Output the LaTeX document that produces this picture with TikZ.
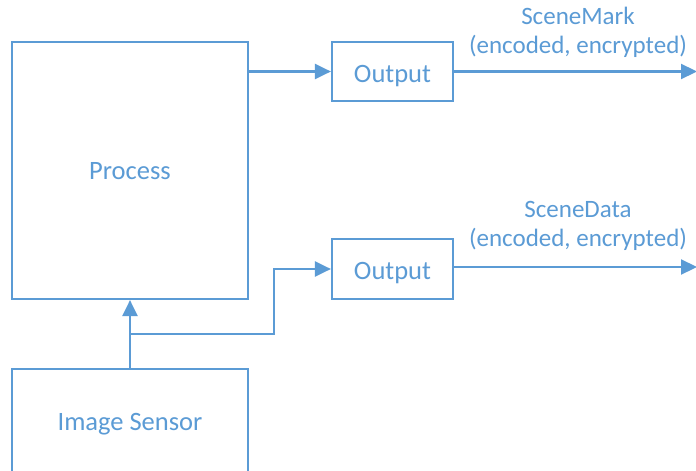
\documentclass[tikz,border=0pt]{standalone}
\usepackage{fontspec}
\setmainfont{Carlito}
\usetikzlibrary{arrows.meta}
\definecolor{accent}{HTML}{5B9BD5}
\tikzset{
  box/.style={draw=accent, line width=2.2pt, inner sep=0pt, text=accent,
    text depth=0pt, font=\fontsize{26.5}{31}\selectfont},
  arr/.style={draw=accent, line width=2.2pt, -{Triangle[length=16pt,width=15pt]}},
  lbl/.style={text=accent, inner sep=0pt, anchor=base,
    font=\fontsize{25}{29.5}\selectfont}
}
\begin{document}
\begin{tikzpicture}[x=1pt,y=-1pt]
  \clip (0,0) rectangle (696,471);
  \fill[white] (0,0) rectangle (696,471);

  % blocks
  \node[box, minimum width=236pt, minimum height=257pt] (proc) at (130,170.5) {Process};
  \node[box, minimum width=236pt, minimum height=106pt] (sensor) at (130,422) {Image Sensor};
  \node[box, text height=21.5pt, minimum width=121pt, minimum height=59pt] (o1) at (392.5,71.5) {Output};
  \node[box, text height=21.5pt, minimum width=121pt, minimum height=60pt] (o2) at (392.5,269) {Output};

  % stream labels
  \node[lbl] (lmark) at (578,24.5) {SceneMark};
  \node[lbl] (lmarkenc) at (578,53.5) {(encoded, encrypted)};
  \node[lbl] (ldata) at (578,217) {SceneData};
  \node[lbl] (ldataenc) at (578,246.5) {(encoded, encrypted)};

  % free ends and the branch point
  \coordinate (e1) at (697,71.5);
  \coordinate (e2) at (697,267);
  \coordinate (split) at (130,334);

  % connectors
  \draw[arr] (proc.east |- o1.west) -- (o1.west);
  \draw[arr] (o1.east) -- (e1);
  \draw[arr] (o2.east |- e2) -- (e2);
  \draw[arr] (sensor.north) -- (proc.south);
  \draw[arr] (split) -| ([xshift=-57pt]o2.west) -- (o2.west);
\end{tikzpicture}
\end{document}
